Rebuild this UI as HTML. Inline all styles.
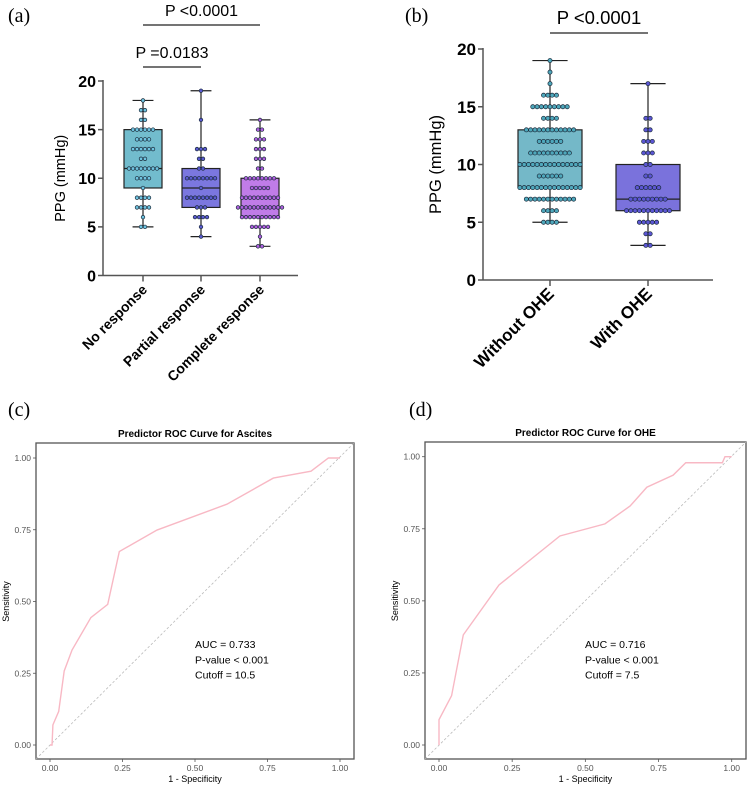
<!DOCTYPE html>
<html><head><meta charset="utf-8"><style>
body{margin:0;background:#fff;width:750px;height:785px;overflow:hidden}
svg{display:block}
text{font-family:"Liberation Sans",Arial,sans-serif}
</style></head><body>
<svg id="fig" width="750" height="785" xmlns="http://www.w3.org/2000/svg">
<g font-family="Liberation Serif,serif" font-size="20" fill="#000">
<text x="8" y="22" style="font-family:'Liberation Serif',serif">(a)</text>
<text x="405" y="22" style="font-family:'Liberation Serif',serif">(b)</text>
<text x="8" y="416" style="font-family:'Liberation Serif',serif">(c)</text>
<text x="409" y="416" style="font-family:'Liberation Serif',serif">(d)</text>
</g>
<g id="pa"></g>
<g id="pb"></g>
<g id="pc"></g>
<g id="pd"></g>
</svg>
<script>
// ---- Panel A data ----
const aCategories=["No response","Partial response","Complete response"];
const aValues=[[18,17,17,16,16,15,15,15,15,15,15,14,14,14,14,13,13,13,13,13,13,12,12,11,11,11,11,11,11,11,11,10,10,10,10,9,8,8,8,8,7,7,7,7,6,5,5],
[19,16,13,13,13,12,12,11,11,10,10,10,10,10,10,10,10,9,8,8,8,8,8,8,8,8,7,7,7,6,6,6,6,5,4],
[16,15,15,14,14,14,13,13,13,12,12,12,11,11,10,10,10,10,10,10,10,10,9,9,9,9,9,8,8,8,8,8,8,8,8,8,8,7,7,7,7,7,7,7,7,7,7,7,7,6,6,6,6,6,6,6,6,6,6,5,5,5,5,5,4,3,3]];
const aBox=[[5,9,11,15,18],[4,7,9,11,19],[3,6,7,10,16]];
const aTicks=[0,5,10,15,20];
// ---- Panel B data ----
const bCategories=["Without OHE","With OHE"];
const bCounts=[[[19,1],[18,1],[17,1],[16,4],[15,9],[14,4],[13,12],[12,6],[11,10],[10,15],[9,6],[8,15],[7,12],[6,4],[5,4]],
[[17,1],[14,2],[13,2],[12,3],[11,3],[10,2],[9,2],[8,6],[7,9],[6,11],[5,5],[4,2],[3,2]]];
const bBox=[[5,8,10,13,19],[3,6,7,10,17]];
const bTicks=[0,5,10,15,20];
// ---- ROC data ----
const cFpr=[0,0.007,0.01,0.03,0.049,0.076,0.141,0.199,0.239,0.369,0.61,0.77,0.90,0.96,1];
const cTpr=[0,0,0.07,0.117,0.258,0.331,0.444,0.49,0.674,0.749,0.839,0.93,0.954,1,1];
const dFpr=[0,0,0.043,0.083,0.205,0.413,0.567,0.653,0.71,0.80,0.843,0.968,0.977,1];
const dTpr=[0,0.088,0.171,0.382,0.555,0.725,0.767,0.829,0.894,0.936,0.979,0.979,1,1];
const rocTicks=[0,0.25,0.5,0.75,1];
const rocTickLabels=["0.00","0.25","0.50","0.75","1.00"];

const NS="http://www.w3.org/2000/svg";
function mk(p,t,a,txt){const e=document.createElementNS(NS,t);for(const k in a)e.setAttribute(k,a[k]);if(txt!==undefined)e.textContent=txt;p.appendChild(e);return e;}

function boxPanel(g,o){
  const y=v=>o.y0-(v/20)*(o.y0-o.y20);
  const ax=mk(g,'line',{x1:o.ax,y1:o.y20-1,x2:o.ax,y2:o.y0,stroke:'#555','stroke-width':1.5});
  
  const xa=mk(g,'line',{x1:o.ax,y1:o.y0,x2:o.axEnd,y2:o.y0,stroke:'#555','stroke-width':1.5});
  
  o.ticks.forEach(t=>{
    mk(g,'line',{x1:o.ax-5,y1:y(t),x2:o.ax,y2:y(t),stroke:'#555','stroke-width':1.5});
    const tl=mk(g,'text',{x:o.ax-7,y:y(t)+o.tfs*0.36,'text-anchor':'end','font-size':o.tfs,'font-weight':'bold'},String(t));
    
  });
  const yt=mk(g,'text',{x:0,y:0,transform:`translate(${o.ax-o.titleOff},${(o.y0+o.y20)/2}) rotate(-90)`,'text-anchor':'middle','font-size':o.titleFs},'PPG (mmHg)');
  
  o.cats.forEach((c,i)=>{
    const cx=o.xs[i],b=o.box[i],hw=o.hw;
    mk(g,'line',{x1:cx,y1:o.y0,x2:cx,y2:o.y0+6,stroke:'#555','stroke-width':1.5});
    const cl=mk(g,'text',{x:0,y:0,transform:`translate(${cx+5},${o.y0+15}) rotate(-45)`,'text-anchor':'end','font-size':o.cfs,'font-weight':'bold'},c);
    
    mk(g,'line',{x1:cx,y1:y(b[0]),x2:cx,y2:y(b[4]),stroke:'#222','stroke-width':1.2});
    mk(g,'line',{x1:cx-hw*0.55,y1:y(b[0]),x2:cx+hw*0.55,y2:y(b[0]),stroke:'#222','stroke-width':1.2});
    mk(g,'line',{x1:cx-hw*0.55,y1:y(b[4]),x2:cx+hw*0.55,y2:y(b[4]),stroke:'#222','stroke-width':1.2});
    const r=mk(g,'rect',{x:cx-hw,y:y(b[3]),width:2*hw,height:y(b[1])-y(b[3]),fill:o.fills[i],stroke:'#222','stroke-width':1.2});
    
    mk(g,'line',{x1:cx-hw,y1:y(b[2]),x2:cx+hw,y2:y(b[2]),stroke:'#222','stroke-width':1.2});
    o.counts[i].forEach(([v,n])=>{
      for(let k=0;k<n;k++){
        const dx=(k-(n-1)/2)*o.sp;
        const d=mk(g,'circle',{cx:cx+dx,cy:y(v),r:o.r,fill:o.dots[i],stroke:'#1a2a3a','stroke-width':0.7});
        
      }
    });
  });
  o.sig.forEach(s=>{
    mk(g,'line',{x1:o.xs[s[0]],y1:s[2],x2:o.xs[s[1]],y2:s[2],stroke:'#222','stroke-width':1.2});
    const st=mk(g,'text',{x:(o.xs[s[0]]+o.xs[s[1]])/2,y:s[2]-9,'text-anchor':'middle','font-size':o.sfs},s[3]);
    
  });
}
function toCounts(arr){const m={};arr.forEach(v=>m[v]=(m[v]||0)+1);return Object.keys(m).map(k=>[+k,m[k]]);}

boxPanel(document.getElementById('pa'),{ax:103,axEnd:298,y0:275.5,y20:81,ticks:aTicks,tfs:16,titleOff:38,titleFs:14.5,
  cats:aCategories,xs:[143,201,260],box:aBox,hw:19,fills:['#72bccd','#7b77df','#c07ce8'],dots:['#6fc4e0','#5a5ad0','#b060e0'],
  counts:aValues.map(toCounts),sp:4,r:1.8,cfs:14,sfs:16,sig:[[0,1,67,'P =0.0183'],[0,2,25,'P <0.0001']]});
boxPanel(document.getElementById('pb'),{ax:483,axEnd:713,y0:280,y20:49,ticks:bTicks,tfs:17,titleOff:42,titleFs:16.5,
  cats:bCategories,xs:[550,648],box:bBox,hw:32,fills:['#74b8c8','#7a72dc'],dots:['#4fa8bc','#5c56d4'],
  counts:bCounts,sp:4.3,r:2.1,cfs:17,sfs:18.5,sig:[[0,1,33,'P <0.0001']]});

function rocPanel(g,o){
  const X=v=>o.x0+v*(o.x1-o.x0), Y=v=>o.y0-v*(o.y0-o.y1);
  const f=mk(g,'rect',{x:o.fx0,y:o.fy0,width:o.fx1-o.fx0,height:o.fy1-o.fy0,fill:'none',stroke:'#555','stroke-width':1.3});
  
  const t=mk(g,'text',{x:(o.fx0+o.fx1)/2,y:o.fy0-6,'text-anchor':'middle','font-size':10,'font-weight':'bold'},o.title);
  
  rocTicks.forEach((v,i)=>{
    mk(g,'line',{x1:X(v),y1:o.fy1,x2:X(v),y2:o.fy1+3,stroke:'#555','stroke-width':0.8});
    const a=mk(g,'text',{x:X(v),y:o.fy1+12,'text-anchor':'middle','font-size':8.5,fill:'#555'},rocTickLabels[i]);
    
    mk(g,'line',{x1:o.fx0-3,y1:Y(v),x2:o.fx0,y2:Y(v),stroke:'#555','stroke-width':0.8});
    const b=mk(g,'text',{x:o.fx0-5,y:Y(v)+3,'text-anchor':'end','font-size':8.5,fill:'#555'},rocTickLabels[i]);
    
  });
  const xt=mk(g,'text',{x:X(0.5),y:o.fy1+23,'text-anchor':'middle','font-size':9},'1 - Specificity');
  
  const yt=mk(g,'text',{x:0,y:0,transform:`translate(${o.fx0-27},${Y(0.5)}) rotate(-90)`,'text-anchor':'middle','font-size':9},'Sensitivity');
  
  const dg=mk(g,'line',{x1:o.fx0,y1:o.fy1,x2:o.fx1,y2:o.fy0,stroke:'#bbb','stroke-width':0.8,'stroke-dasharray':'2.5,2'});
  
  const p=mk(g,'polyline',{points:o.fpr.map((v,i)=>X(v)+','+Y(o.tpr[i])).join(' '),fill:'none',stroke:'#f8b8c4','stroke-width':1.4});
  
  o.ann.forEach((s,i)=>{
    const a=mk(g,'text',{x:o.annX,y:o.annY+i*15.3,'font-size':10.5},s);
    
  });
}
rocPanel(document.getElementById('pc'),{x0:50,x1:340,y0:745,y1:458,fx0:36,fx1:354,fy0:443,fy1:759,title:'Predictor ROC Curve for Ascites',
  fpr:cFpr,tpr:cTpr,ann:['AUC = 0.733','P-value < 0.001','Cutoff = 10.5'],annX:195,annY:648});
rocPanel(document.getElementById('pd'),{x0:439,x1:731.7,y0:745,y1:456.7,fx0:425,fx1:746,fy0:442,fy1:759,title:'Predictor ROC Curve for OHE',
  fpr:dFpr,tpr:dTpr,ann:['AUC = 0.716','P-value < 0.001','Cutoff = 7.5'],annX:585,annY:648});
</script>
</body></html>
